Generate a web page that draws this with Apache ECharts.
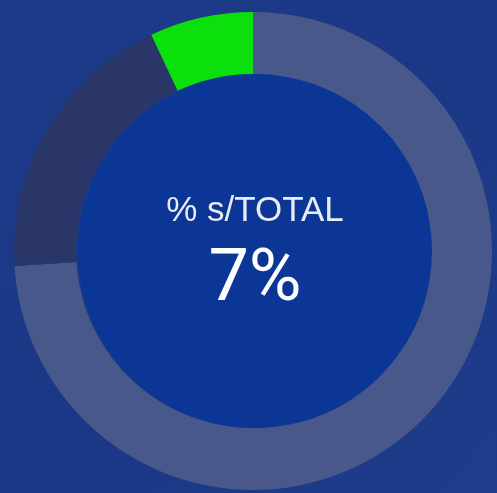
<!DOCTYPE html>
<html>
<head>
    <meta charset="utf-8">
    <script src="https://cdn.jsdelivr.net/npm/echarts@6/dist/echarts.min.js"></script>
    <style>
        html, body { margin: 0; padding: 0; background: #1c3a86; }
    </style>
</head>
<body>
<div id="main" style="width: 497px;height:493px;"></div>

<script type="text/javascript">
    // data
    var categories = ['resto', 'otros', 's/TOTAL'];
    var values = [74, 19, 7];
    var colors = ['#48588b', '#2a3668', '#0ce00c'];
    var label = '% s/TOTAL';
    var share = values[2];

    var myChart = echarts.init(document.getElementById('main'));

    var ringData = [];
    for (var i in categories) {
        ringData.push({
            name: categories[i],
            value: values[i],
            itemStyle: { color: colors[i] }
        });
    }

    var option = {
        backgroundColor: new echarts.graphic.LinearGradient(0, 0, 1, 1, [
            { offset: 0, color: '#1d3b88' },
            { offset: 0.5, color: '#1a3885' },
            { offset: 1, color: '#1e3c8a' }
        ]),
        series: [
            {
                name: 'ring',
                type: 'pie',
                radius: [177, 239],
                center: [253, 251],
                startAngle: 90,
                clockwise: true,
                silent: true,
                label: { show: false },
                labelLine: { show: false },
                itemStyle: { borderWidth: 0 },
                data: ringData
            },
            {
                name: 'inner',
                type: 'pie',
                radius: [0, 177],
                center: [255, 251],
                silent: true,
                labelLine: { show: false },
                itemStyle: { color: '#0b3696' },
                label: {
                    show: true,
                    position: 'center',
                    formatter: function () {
                        return '{a|' + label + '}\n{b|' + share + '%}';
                    },
                    rich: {
                        a: {
                            color: '#e8ecf5',
                            fontFamily: 'Liberation Sans',
                            fontSize: 35,
                            lineHeight: 62
                        },
                        b: {
                            color: '#ffffff',
                            fontFamily: 'Roboto',
                            fontSize: 72,
                            lineHeight: 80
                        }
                    }
                },
                data: [{ name: label, value: 1 }]
            }
        ]
    };

    myChart.setOption(option);
</script>
</body>
</html>
